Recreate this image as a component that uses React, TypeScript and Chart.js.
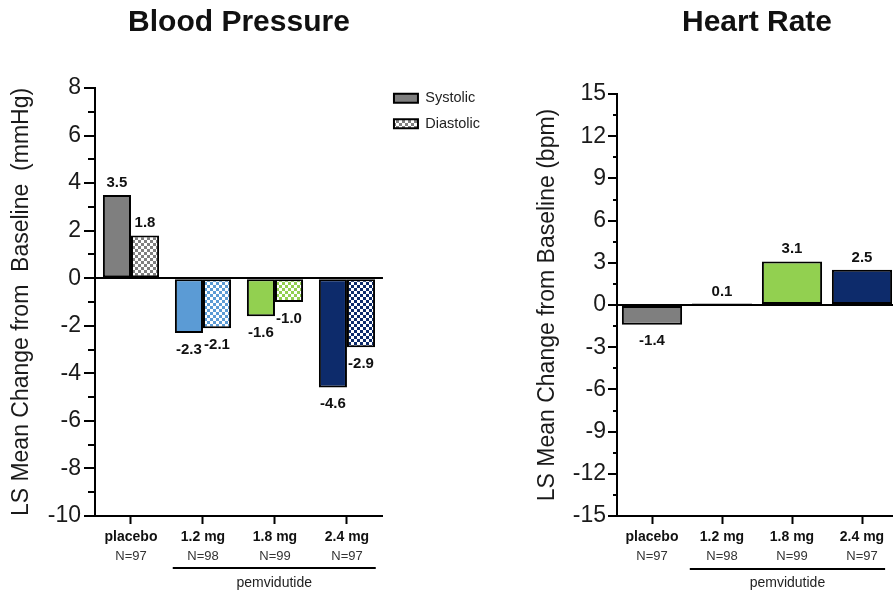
import { useEffect, useRef } from 'react';
import { Chart, registerables } from 'chart.js';

Chart.register(...registerables);

const FONT = "'Liberation Sans', Arial, Helvetica, sans-serif";

// ---- data ----
const categories = ['placebo', '1.2 mg', '1.8 mg', '2.4 mg'];
const sampleSizes = ['N=97', 'N=98', 'N=99', 'N=97'];
const systolic = [3.5, -2.3, -1.6, -4.6];
const diastolic = [1.8, -2.1, -1.0, -2.9];
const heartRate = [-1.4, 0.1, 3.1, 2.5];
const groupColors = ['#7f7f7f', '#5b9bd5', '#92d050', '#0d2b6b'];
const bracketLabel = 'pemvidutide';
const bpTitle = 'Blood Pressure';
const hrTitle = 'Heart Rate';
const bpAxisTitle = 'LS Mean Change from  Baseline  (mmHg)';
const hrAxisTitle = 'LS Mean Change from Baseline (bpm)';

function makeChecker(ctx: CanvasRenderingContext2D, color: string) {
  const c = document.createElement('canvas');
  c.width = 6;
  c.height = 6;
  const g = c.getContext('2d')!;
  g.fillStyle = '#ffffff';
  g.fillRect(0, 0, 6, 6);
  g.fillStyle = color;
  g.fillRect(0, 0, 3, 3);
  g.fillRect(3, 3, 3, 3);
  return ctx.createPattern(c, 'repeat')!;
}

const minorTicksPlugin = {
  id: 'minorTicks',
  afterDraw(chart: any, _args: any, opts: any) {
    const s = chart.scales.y;
    const ctx = chart.ctx;
    ctx.save();
    ctx.strokeStyle = '#000';
    ctx.lineWidth = 2;
    for (let v = s.min; v <= s.max + 1e-9; v += opts.step) {
      const r = v / opts.major;
      if (Math.abs(r - Math.round(r)) < 1e-6) continue;
      const y = Math.round(s.getPixelForValue(v));
      ctx.beginPath();
      ctx.moveTo(s.right - opts.length, y);
      ctx.lineTo(s.right, y);
      ctx.stroke();
    }
    ctx.restore();
  },
};

const valueLabelsPlugin = {
  id: 'valueLabels',
  afterDatasetsDraw(chart: any) {
    const ctx = chart.ctx;
    ctx.save();
    ctx.font = `bold 15px ${FONT}`;
    ctx.fillStyle = '#111';
    ctx.textAlign = 'center';
    chart.data.datasets.forEach((ds: any, i: number) => {
      const meta = chart.getDatasetMeta(i);
      meta.data.forEach((bar: any, j: number) => {
        const v = ds.data[j];
        const p = bar.getProps(['x', 'y'], true);
        if (v >= 0) {
          ctx.textBaseline = 'alphabetic';
          ctx.fillText(v.toFixed(1), p.x, p.y - 8);
        } else {
          ctx.textBaseline = 'top';
          ctx.fillText(v.toFixed(1), p.x, p.y + 9);
        }
      });
    });
    ctx.restore();
  },
};

const bracketPlugin = {
  id: 'bracket',
  afterDraw(chart: any, _args: any, opts: any) {
    const x = chart.scales.x;
    const ctx = chart.ctx;
    const w = x.getPixelForValue(1) - x.getPixelForValue(0);
    const x0 = x.getPixelForValue(opts.from) - w * opts.insetL;
    const x1 = x.getPixelForValue(opts.to) + w * opts.insetR;
    ctx.save();
    ctx.strokeStyle = '#000';
    ctx.lineWidth = 2;
    ctx.beginPath();
    ctx.moveTo(x0, opts.lineY);
    ctx.lineTo(x1, opts.lineY);
    ctx.stroke();
    ctx.font = `14px ${FONT}`;
    ctx.fillStyle = '#222';
    ctx.textAlign = 'center';
    ctx.textBaseline = 'middle';
    ctx.fillText(opts.text, (x0 + x1) / 2, opts.textY);
    ctx.restore();
  },
};

function xScales() {
  return {
    x: {
      type: 'category',
      position: 'bottom',
      weight: 0,
      offset: true,
      afterFit: (s: any) => {
        s.height = 32;
      },
      border: { color: '#000', width: 2 },
      grid: {
        offset: false,
        drawOnChartArea: false,
        drawTicks: true,
        tickLength: 8,
        tickWidth: 2,
        tickColor: '#000',
        color: '#000',
      },
      ticks: {
        font: { size: 14, weight: 'bold' },
        color: '#111',
        padding: 5,
        maxRotation: 0,
        autoSkip: false,
      },
    },
    x2: {
      type: 'category',
      position: 'bottom',
      weight: 1,
      offset: true,
      labels: sampleSizes,
      afterFit: (s: any) => {
        s.height = 49;
      },
      border: { display: false },
      grid: { display: false, drawTicks: false, drawOnChartArea: false },
      ticks: {
        font: { size: 13 },
        color: '#333',
        padding: 1,
        maxRotation: 0,
        autoSkip: false,
      },
    },
  };
}

function yScale(min: number, max: number, step: number, width: number, title: string, titlePad: number, tickLen: number, tickPad: number) {
  return {
    min,
    max,
    afterFit: (s: any) => {
      s.width = width;
    },
    border: { color: '#000', width: 2 },
    grid: {
      drawOnChartArea: true,
      color: (c: any) => (c.tick && c.tick.value === 0 ? '#000' : 'rgba(0,0,0,0)'),
      lineWidth: 2,
      tickColor: '#000',
      tickLength: tickLen,
      tickWidth: 2,
    },
    ticks: { stepSize: step, font: { size: 23 }, color: '#1a1a1a', padding: tickPad },
    title: {
      display: true,
      text: title,
      font: { size: 23 },
      color: '#1a1a1a',
      padding: { top: titlePad, bottom: 0 },
    },
  };
}

export default function App() {
  const leftRef = useRef<HTMLCanvasElement>(null);
  const rightRef = useRef<HTMLCanvasElement>(null);

  useEffect(() => {
    document.body.style.margin = '0';
    Chart.defaults.font.family = FONT;
    const lc = leftRef.current!;
    const rc = rightRef.current!;
    const lctx = lc.getContext('2d')!;
    const patterns = groupColors.map((c) => makeChecker(lctx, c));

    const left = new Chart(lc, {
      type: 'bar',
      data: {
        labels: categories,
        datasets: [
          {
            label: 'Systolic',
            data: systolic,
            backgroundColor: groupColors,
            borderColor: '#000',
            borderWidth: 2,
            borderSkipped: false,
            categoryPercentage: 0.78,
            barPercentage: 1,
          },
          {
            label: 'Diastolic',
            data: diastolic,
            backgroundColor: patterns,
            borderColor: '#000',
            borderWidth: 2,
            borderSkipped: false,
            categoryPercentage: 0.78,
            barPercentage: 1,
          },
        ],
      },
      options: {
        responsive: false,
        animation: false,
        devicePixelRatio: 1,
        layout: { padding: 0 },
        scales: {
          ...xScales(),
          y: yScale(-10, 8, 2, 95, bpAxisTitle, 8, 11, 3),
        } as any,
        plugins: {
          title: {
            display: true,
            text: bpTitle,
            fullSize: false,
            font: { size: 30, weight: 'bold' },
            color: '#111',
            padding: { top: 5, bottom: 47 },
          },
          legend: {
            position: 'right',
            align: 'start',
            title: { display: true, text: '', font: { size: 10 }, padding: { top: 68, bottom: 0 } },
            labels: {
              boxWidth: 24,
              boxHeight: 9,
              padding: 11,
              font: { size: 14.5 },
              color: '#222',
            },
          },
          tooltip: { enabled: false },
          minorTicks: { step: 1, major: 2, length: 7 },
          bracket: { from: 1, to: 3, insetL: 0.42, insetR: 0.4, lineY: 568, textY: 583, text: bracketLabel },
        } as any,
      },
      plugins: [minorTicksPlugin, valueLabelsPlugin, bracketPlugin],
    });

    const right = new Chart(rc, {
      type: 'bar',
      data: {
        labels: categories,
        datasets: [
          {
            label: 'Heart Rate',
            data: heartRate,
            backgroundColor: groupColors,
            borderColor: '#000',
            borderWidth: 2,
            borderSkipped: false,
            categoryPercentage: 0.86,
            barPercentage: 1,
          },
        ],
      },
      options: {
        responsive: false,
        animation: false,
        devicePixelRatio: 1,
        layout: { padding: { right: 3 } },
        scales: {
          ...xScales(),
          y: yScale(-15, 15, 3, 117, hrAxisTitle, 34, 9, 2),
        } as any,
        plugins: {
          title: {
            display: true,
            text: hrTitle,
            fullSize: false,
            font: { size: 30, weight: 'bold' },
            color: '#111',
            padding: { top: 5, bottom: 53 },
          },
          legend: { display: false },
          tooltip: { enabled: false },
          minorTicks: { step: 1.5, major: 3, length: 4 },
          bracket: { from: 1, to: 3, insetL: 0.46, insetR: 0.33, lineY: 569, textY: 583, text: bracketLabel },
        } as any,
      },
      plugins: [minorTicksPlugin, valueLabelsPlugin, bracketPlugin],
    });

    return () => {
      left.destroy();
      right.destroy();
    };
  }, []);

  return (
    <div style={{ position: 'relative', width: 893, height: 597, overflow: 'hidden', background: '#fff' }}>
      <canvas
        ref={leftRef}
        width={490}
        height={597}
        style={{ position: 'absolute', left: 0, top: 0, width: 490, height: 597 }}
      />
      <canvas
        ref={rightRef}
        width={400}
        height={597}
        style={{ position: 'absolute', left: 500, top: 0, width: 400, height: 597 }}
      />
    </div>
  );
}
